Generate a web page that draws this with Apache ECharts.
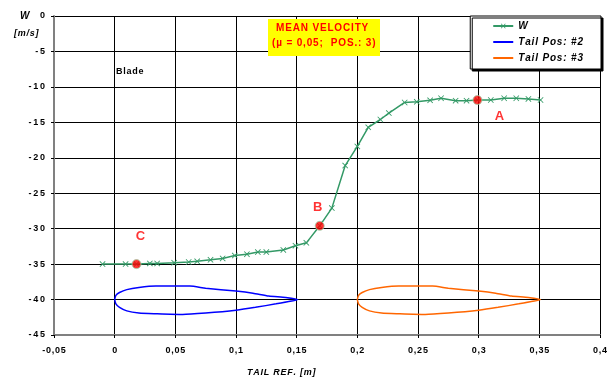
<!DOCTYPE html>
<html>
<head>
<meta charset="utf-8">
<script src="https://cdn.jsdelivr.net/npm/echarts@6/dist/echarts.min.js"></script>
<style>
  html, body { margin: 0; padding: 0; background: #fff; }
  #chart { width: 610px; height: 380px; }
</style>
</head>
<body>
<div id="chart"></div>
<script>
  // W (mean velocity) along tail reference
  var wX = [-0.010, 0.009, 0.018, 0.029, 0.035, 0.049, 0.061, 0.068, 0.079, 0.089, 0.099, 0.109, 0.118, 0.125, 0.139, 0.149, 0.158, 0.169, 0.179,
            0.190, 0.200, 0.209, 0.219, 0.226, 0.239, 0.249, 0.260, 0.269, 0.281, 0.290, 0.299, 0.310, 0.321, 0.331, 0.341, 0.351];
  var wY = [-35.0, -35.0, -35.0, -34.9, -34.9, -34.8, -34.7, -34.6, -34.4, -34.2, -33.8, -33.6, -33.3, -33.3, -33.0, -32.4, -32.0, -29.6, -27.1,
            -21.1, -18.4, -15.7, -14.6, -13.7, -12.2, -12.1, -11.9, -11.6, -11.95, -11.95, -11.85, -11.85, -11.6, -11.6, -11.7, -11.85];

  // blade outline, tail position #2
  var pos2X = [0.000, 0.001, 0.004, 0.010, 0.020, 0.034, 0.051, 0.062, 0.075, 0.100, 0.114, 0.127, 0.141, 0.151,
               0.133, 0.116, 0.100, 0.075, 0.056, 0.034, 0.020, 0.010, 0.004, 0.001, 0.000];
  var pos2Y = [-40.0, -39.4, -39.0, -38.6, -38.3, -38.1, -38.1, -38.1, -38.4, -38.8, -39.1, -39.5, -39.7, -40.0,
               -40.6, -41.1, -41.5, -41.9, -42.1, -42.0, -41.9, -41.6, -41.1, -40.6, -40.0];

  // blade outline, tail position #3
  var pos3X = [0.200, 0.201, 0.204, 0.210, 0.220, 0.234, 0.251, 0.262, 0.275, 0.300, 0.314, 0.327, 0.341, 0.351,
               0.333, 0.316, 0.300, 0.275, 0.256, 0.234, 0.220, 0.210, 0.204, 0.201, 0.200];
  var pos3Y = [-40.0, -39.4, -39.0, -38.6, -38.3, -38.1, -38.1, -38.1, -38.4, -38.8, -39.1, -39.5, -39.7, -40.0,
               -40.6, -41.1, -41.5, -41.9, -42.1, -42.0, -41.9, -41.6, -41.1, -40.6, -40.0];

  // marked points
  var markNames = ['A', 'B', 'C'];
  var markX = [0.299, 0.169, 0.018];
  var markY = [-11.85, -29.6, -35.0];

  function pairs(xs, ys) {
    return xs.map(function (x, i) { return [x, ys[i]]; });
  }
  function spaced(s, sp) {
    return s.split('').join(sp || '\u200a');
  }

  var labelFont = { color: '#000', fontSize: 9, fontWeight: 'bold', fontFamily: 'Liberation Sans' };
  var markOffset = { A: [22, 16], B: [-2, -18], C: [4, -28] };

  var myChart = echarts.init(document.getElementById('chart'));
  var option = {
    animation: false,
    grid: { left: 54, right: 10, top: 16, bottom: 45 },
    legend: {
      orient: 'vertical',
      right: 9,
      top: 16,
      padding: [5, 18, 6, 22],
      itemGap: 6,
      itemWidth: 20,
      itemHeight: 6,
      backgroundColor: '#fff',
      borderColor: '#000',
      borderWidth: 1,
      shadowColor: '#000',
      shadowOffsetX: 2,
      shadowOffsetY: 2,
      shadowBlur: 0,
      textStyle: { color: '#000', fontSize: 10, fontWeight: 'bold', fontStyle: 'italic', fontFamily: 'Liberation Sans' },
      formatter: function (n) { return spaced(n); },
      data: [
        { name: 'W' },
        { name: 'Tail Pos: #2', itemStyle: { opacity: 0 } },
        { name: 'Tail Pos: #3', itemStyle: { opacity: 0 } }
      ]
    },
    xAxis: {
      type: 'value',
      min: -0.05,
      max: 0.4,
      interval: 0.05,
      axisLine: { show: true, onZero: false, lineStyle: { color: '#808080', width: 2 } },
      axisTick: { show: true, length: 3, lineStyle: { color: '#000' } },
      axisLabel: Object.assign({
        margin: 11,
        formatter: function (v) { return spaced(parseFloat(v.toFixed(2)).toString().replace('.', ',')); }
      }, labelFont),
      splitLine: { show: true, lineStyle: { color: '#000', width: 1 } }
    },
    yAxis: {
      type: 'value',
      min: -45,
      max: 0,
      interval: 5,
      axisLine: { show: true, onZero: false, lineStyle: { color: '#808080', width: 2 } },
      axisTick: { show: true, length: 3, lineStyle: { color: '#000' } },
      axisLabel: Object.assign({
        margin: 9,
        formatter: function (v) { return spaced(String(v), '\u2009'); }
      }, labelFont),
      splitLine: { show: true, lineStyle: { color: '#000', width: 1 } }
    },
    graphic: [
      { type: 'text', left: 20, top: 11, z: 10, style: { text: 'W', fill: '#000', font: 'italic bold 10px Liberation Sans' } },
      { type: 'text', left: 14, top: 29, z: 10, style: { text: spaced('[m/s]'), fill: '#000', font: 'italic bold 9px Liberation Sans' } },
      { type: 'text', left: 116, top: 67, z: 10, style: { text: spaced('Blade'), fill: '#000', font: 'bold 9px Liberation Sans' } },
      { type: 'text', left: 247, top: 368, z: 10, style: { text: spaced('TAIL REF. [m]'), fill: '#000', font: 'italic bold 9px Liberation Sans' } },
      { type: 'rect', left: 268, top: 19, z: 10, shape: { width: 112, height: 37 }, style: { fill: '#ffff00' } },
      { type: 'text', left: 276, top: 23, z: 11, style: { text: spaced('MEAN VELOCITY'), fill: '#ff0000', font: 'bold 10px Liberation Sans' } },
      { type: 'text', left: 272, top: 38, z: 11, style: { text: spaced('(\u00b5 = 0,05;  POS.: 3)'), fill: '#ff0000', font: 'bold 10px Liberation Sans' } }
    ],
    series: [
      {
        name: 'W',
        type: 'line',
        data: pairs(wX, wY),
        symbol: 'path://M0,1L1,0L5,4L9,0L10,1L6,5L10,9L9,10L5,6L1,10L0,9L4,5Z',
        symbolSize: 6,
        showAllSymbol: true,
        lineStyle: { color: '#339966', width: 1.5 },
        itemStyle: { color: '#339966' },
        z: 3
      },
      {
        name: 'Tail Pos: #2',
        type: 'line',
        data: pairs(pos2X, pos2Y),
        showSymbol: false,
        symbol: 'none',
        smooth: 0.2,
        lineStyle: { color: '#0000ff', width: 1.5 },
        itemStyle: { color: '#0000ff' },
        z: 3
      },
      {
        name: 'Tail Pos: #3',
        type: 'line',
        data: pairs(pos3X, pos3Y),
        showSymbol: false,
        symbol: 'none',
        smooth: 0.2,
        lineStyle: { color: '#ff6600', width: 1.5 },
        itemStyle: { color: '#ff6600' },
        z: 3
      },
      {
        name: 'points',
        type: 'scatter',
        symbolSize: 9,
        itemStyle: { color: '#ff0000', borderColor: '#9ccfa8', borderWidth: 1 },
        z: 4,
        data: markNames.map(function (n, i) {
          return {
            name: n,
            value: [markX[i], markY[i]],
            label: {
              show: true,
              position: 'inside',
              offset: markOffset[n],
              formatter: n,
              color: '#ff0000',
              fontSize: 13,
              fontWeight: 'bold',
              fontFamily: 'Liberation Sans'
            }
          };
        })
      }
    ]
  };
  myChart.setOption(option);
</script>
</body>
</html>
